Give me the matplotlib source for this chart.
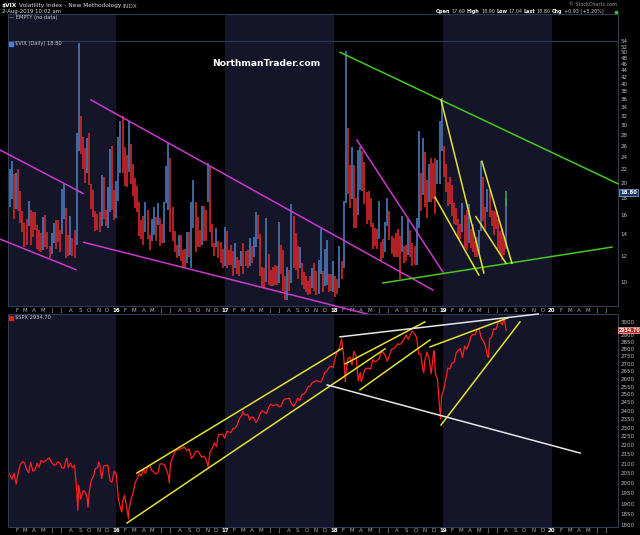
import matplotlib
matplotlib.use('Agg')
import matplotlib.pyplot as plt
from matplotlib.ticker import NullLocator
from matplotlib.lines import Line2D
import pandas as pd

# ---------------- data ----------------
# weekly bars, Fridays 2015-01-02 .. 2019-08-02
vix_hi = [
    # 2015
    20.9, 22.0, 23.3, 21.3, 21.4,  22.0, 18.9, 16.4, 15.1,  15.5, 17.6, 16.6, 16.3,
    16.3, 14.9, 14.4, 14.1,  15.8, 16.0, 14.2, 12.9, 14.1,  15.1, 15.4, 15.4, 14.4,
    19.2, 20.0, 16.8, 13.9, 15.9,  13.6, 14.4, 28.4, 53.3,  32.0, 27.7, 25.5, 27.4,
    28.3, 19.8, 19.0, 16.4, 16.1,  16.3, 21.1, 20.8, 16.5,  19.5, 25.3, 25.9, 19.0,
    # 2016
    20.3, 27.7, 30.9, 32.1, 25.8,  24.3, 30.9, 26.3, 22.9,  20.7, 19.6, 17.5, 15.4,
    15.9, 17.5, 16.5, 13.9, 15.5,  16.9, 15.8, 17.4, 15.6,  15.0, 17.5, 22.5, 26.7,
    23.9, 16.9, 14.3, 13.0, 13.9,  13.9, 12.5, 12.6, 14.2,  14.2, 17.5, 20.5, 17.5, 15.8,
    14.4, 17.0, 17.0, 16.5,  23.0, 22.5, 15.0, 13.1,  14.6, 13.3, 13.2, 12.6, 14.7,
    # 2017
    14.3, 12.5, 13.0, 12.4,  13.1, 11.9, 11.7, 12.4,  13.1, 12.4, 12.5, 13.6, 12.9,
    13.7, 16.3, 16.0, 14.0,  11.1, 11.0, 15.6, 12.2,  10.9, 11.1, 11.3, 11.2, 15.2,
    13.0, 12.5, 10.4, 11.1,  10.9, 17.3, 15.9, 14.1,  12.9, 12.8, 11.4, 10.7, 10.4,
    10.1, 10.4, 11.0, 11.4,  10.8, 11.7, 14.5, 10.8,  12.6, 13.4, 10.6, 10.6, 11.6,
    # 2018
    10.4, 10.2, 12.9, 11.6,  17.6, 50.3, 29.5, 22.7,  25.7, 22.7, 18.0, 25.2, 25.7,
    25.1, 23.2, 18.8, 18.9,  18.0, 15.1, 14.6, 14.5,  17.6, 13.2, 13.5, 15.2, 18.0,
    16.4, 13.8, 13.6, 14.1,  14.5, 13.8, 15.9, 12.9, 13.0,  15.5, 14.4, 13.1, 12.9,
    15.6, 28.8, 21.5, 27.4,  24.9, 20.5, 22.8, 23.8, 23.0,  23.8, 23.5, 30.8, 36.2,
    # 2019
    26.0, 22.9, 20.2, 20.8,  19.7, 17.4, 16.8, 15.5,  15.0, 17.4, 16.0, 16.5, 17.3,
    14.5, 15.0, 13.3, 13.7,  14.4, 23.4, 20.8, 16.9, 19.2,  19.1, 16.5, 16.4, 16.3,
    15.5, 14.3, 14.6, 13.7,  17.9,
]
vix_lo = [
    # 2015
    14.5, 16.9, 17.9, 15.5, 16.7,  16.4, 15.1, 14.2, 12.8,  13.0, 14.8, 13.0, 13.7,
    14.4, 12.6, 12.4, 12.3,  12.5, 12.8, 12.6, 11.8, 12.2,  13.1, 12.6, 13.2, 12.3,
    14.0, 15.5, 11.8, 12.0, 12.1,  12.0, 11.8, 13.0, 25.0,  24.5, 22.0, 20.0, 21.4,
    19.7, 16.7, 15.8, 14.3, 14.4,  14.2, 14.8, 15.5, 14.8,  14.6, 16.3, 16.5, 15.4,
    # 2016
    15.6, 17.6, 21.4, 21.5, 19.6,  19.4, 21.6, 19.9, 18.3,  16.8, 16.3, 13.8, 13.5,
    13.0, 14.2, 13.5, 12.5, 13.3,  13.9, 13.3, 14.9, 12.9,  13.1, 13.1, 17.4, 16.5,
    14.2, 13.3, 12.3, 11.8, 12.0,  11.6, 11.0, 11.0, 11.4,  11.9, 11.0, 14.6, 12.3, 12.8,
    12.8, 13.0, 13.3, 13.3,  17.5, 14.2, 12.8, 12.0,  12.8, 11.8, 11.4, 11.0, 11.2,
    # 2017
    11.0, 11.3, 11.3, 10.4,  11.0, 10.6, 10.4, 11.2,  10.6, 11.2, 11.0, 11.2, 11.4,
    11.9, 12.8, 13.5, 10.4,  9.6, 9.6, 10.0, 9.8,  9.7, 9.7, 9.8, 9.8, 9.9,
    10.6, 9.4, 8.8, 8.8,  9.4, 9.9, 11.0, 10.9,  10.2, 11.0, 9.8, 9.5, 9.3,
    9.1, 9.2, 9.6, 9.4,  9.1, 9.2, 10.6, 9.3,  9.7, 9.8, 9.3, 9.4, 9.3,
    # 2018
    9.0, 9.2, 9.6, 10.2,  11.0, 17.4, 18.5, 16.8,  17.9, 14.6, 14.6, 16.0, 19.0,
    18.9, 17.3, 15.0, 15.4,  14.7, 12.6, 12.9, 12.6,  13.5, 11.6, 11.8, 12.3, 14.8,
    13.4, 12.2, 11.9, 11.9,  11.9, 10.2, 12.3, 11.4, 11.6,  12.1, 11.9, 11.2, 11.3,
    11.3, 14.6, 16.4, 18.4,  16.9, 15.6, 17.5, 17.5, 17.9,  16.1, 19.8, 19.8, 25.0,
    # 2019
    20.8, 18.8, 17.0, 17.3,  15.9, 15.0, 14.9, 13.5,  13.5, 14.2, 12.7, 12.5, 13.1,
    12.7, 12.3, 11.9, 11.9,  12.2, 14.3, 15.3, 14.2, 16.3,  15.8, 14.8, 13.9, 14.5,
    12.6, 12.2, 11.7, 12.1,  12.6,
]
vix_today = ('2019-08-02', 17.04, 18.90)   # last (green) daily bar

spx_week = [
    # 2015
    2058, 2044, 2019, 2051, 1995,  2055, 2097, 2110, 2105,  2071, 2053, 2108, 2061,
    2067, 2102, 2081, 2117,  2108, 2116, 2123, 2126, 2107,  2092, 2094, 2110, 2102,
    2077, 2077, 2127, 2080, 2104,  2078, 2092, 1971, 1989,  1921, 1961, 1958, 1931,
    1951, 2015, 2033, 2075, 2079,  2100, 2023, 2089, 2090,  2092, 2012, 2006, 2061,
    # 2016
    2044, 1922, 1880, 1907, 1940,  1880, 1865, 1918, 1948,  2000, 2022, 2050, 2036,
    2073, 2048, 2081, 2092, 2065,  2057, 2047, 2052, 2099,  2099, 2096, 2071, 2037,
    2103, 2130, 2162, 2175, 2174,  2183, 2184, 2184, 2169,  2180, 2128, 2139, 2165, 2168,
    2153, 2133, 2141, 2126,  2085, 2164, 2182, 2213,  2192, 2260, 2259, 2263, 2239,
    # 2017
    2277, 2275, 2271, 2295,  2297, 2316, 2351, 2367,  2383, 2373, 2378, 2344, 2363,
    2355, 2329, 2349, 2384,  2399, 2391, 2382, 2416,  2439, 2432, 2433, 2438, 2423,
    2425, 2459, 2473, 2472,  2476, 2441, 2426, 2443,  2477, 2461, 2500, 2502, 2519,
    2549, 2553, 2575, 2581,  2588, 2582, 2579, 2602,  2642, 2652, 2675, 2683, 2674,
    # 2018
    2743, 2786, 2810, 2873,  2762, 2620, 2732, 2747,  2691, 2787, 2752, 2588, 2641,
    2604, 2656, 2670, 2670,  2663, 2728, 2713, 2721,  2735, 2779, 2780, 2755, 2718,
    2760, 2801, 2802, 2819,  2840, 2833, 2850, 2875, 2902,  2872, 2905, 2930, 2914,
    2885, 2767, 2768, 2658,  2723, 2781, 2736, 2633, 2760,  2633, 2600, 2417, 2486,
    # 2019
    2532, 2596, 2671, 2665,  2707, 2708, 2776, 2793,  2804, 2743, 2822, 2801, 2834,
    2893, 2907, 2905, 2940,  2946, 2881, 2860, 2826, 2752,  2873, 2887, 2950, 2942,
    2990, 3014, 2977, 3026,  2935,
]
spx_extra_dates = ['2015-05-21', '2015-07-20', '2015-08-25', '2015-09-28', '2015-11-03',
                   '2016-01-20', '2016-02-11', '2016-06-27', '2016-08-15', '2017-03-01',
                   '2018-02-08', '2018-04-02', '2018-09-20', '2018-10-29', '2018-12-03',
                   '2018-12-24', '2019-04-30', '2019-06-03']
spx_extra_vals = [2131, 2128, 1868, 1882, 2110, 1859, 1829, 2001, 2191, 2396,
                  2581, 2582, 2931, 2641, 2790, 2351, 2946, 2744]

# hand-drawn trendlines: (start date, start value, end date, end value)
vix_magenta = [('2014-12-07', 25.2, '2015-09-12', 18.6),
               ('2014-12-07', 13.5, '2015-08-19', 10.9),
               ('2015-10-08', 35.8, '2018-11-29', 9.45),
               ('2015-09-14', 13.2, '2018-06-14', 7.77),
               ('2018-03-19', 27.0, '2019-01-02', 10.7)]
vix_green = [('2018-01-21', 50.0, '2020-08-11', 19.9),
             ('2018-06-14', 9.93, '2020-07-22', 12.77)]
vix_yellow = [('2018-12-26', 35.8, '2019-05-19', 10.65),
              ('2018-12-06', 18.1, '2019-05-02', 10.5),
              ('2019-05-12', 23.3, '2019-08-21', 11.4),
              ('2019-04-22', 15.8, '2019-08-01', 11.4)]
spx_yellow = [('2016-03-10', 2051, '2018-01-28', 2806),
              ('2016-02-06', 1809, '2018-06-21', 2803),
              ('2018-02-07', 2699, '2018-11-02', 3000),
              ('2018-03-29', 2529, '2018-11-19', 2867),
              ('2018-11-19', 2817, '2019-08-08', 3031),
              ('2018-12-26', 2315, '2019-09-17', 3000)]
spx_white = [('2018-01-21', 2889, '2019-11-17', 3060),
             ('2017-12-09', 2560, '2020-04-06', 2157)]

vix_ticks = list(range(10, 56, 2))
spx_ticks = list(range(1800, 3001, 50))
spx_hidden = [2950]          # tick label sitting under the "last value" box
month_letters = 'JFMAMJJASOND'

# ---------------- drawing ----------------
W, H = 640, 535
NAVY = '#15152a'
SPINE = '#2b3b58'
RED = '#dc2a2c'
BLUE = '#4d7fc0'
YEL = '#e3e330'
MAG = '#cc38d0'
GRN = '#44cc1c'

weeks = pd.date_range('2015-01-02', '2019-08-02', freq='W-FRI')
x0, x1 = pd.Timestamp('2015-01-01'), pd.Timestamp('2020-08-11')

fig = plt.figure(figsize=(W / 100, H / 100), dpi=100, facecolor='black')


def box(top, bottom):
    return [7.5 / W, 1 - bottom / H, (618 - 7.5) / W, (bottom - top) / H]


ax_e = fig.add_axes(box(14, 41))
ax_v = fig.add_axes(box(41, 306))
ax_s = fig.add_axes(box(314, 527))

for ax in (ax_e, ax_v, ax_s):
    ax.set_facecolor('black')
    for y in (2015, 2017, 2019):
        ax.axvspan(pd.Timestamp(f'{y}-01-01'), pd.Timestamp(f'{y + 1}-01-01'),
                   color=NAVY, lw=0, zorder=0)
    ax.set_xlim(x0, x1)
    for sp in ax.spines.values():
        sp.set_color(SPINE)
        sp.set_linewidth(0.8)

ax_e.set_xticks([])
ax_e.set_yticks([])

# month ticks
months = pd.date_range('2015-02-01', '2020-07-01', freq='MS')
mlabels = [f'{d.year % 100:02d}' if d.month == 1 else month_letters[d.month - 1] for d in months]


def style_x(ax, pad):
    ax.set_xticks(months)
    ax.set_xticklabels(mlabels)
    ax.tick_params(axis='x', length=0, pad=pad, labelsize=4.0, labelcolor='#b0b0b8')
    for t, d in zip(ax.get_xticklabels(), months):
        if d.month == 1:
            t.set_fontweight('bold')
            t.set_color('white')


def style_y(ax, ticks, hidden=()):
    ax.yaxis.tick_right()
    ax.set_yticks(ticks)
    ax.set_yticklabels(['' if v in hidden else str(v) for v in ticks])
    ax.yaxis.set_minor_locator(NullLocator())
    ax.tick_params(axis='y', length=0, pad=2, labelsize=4.0, labelcolor='#c0c0c8')


# VIX panel (log scale)
mids = [(h + l) / 2 for h, l in zip(vix_hi, vix_lo)]
cols = [RED] + [BLUE if mids[i] > mids[i - 1] * 1.03 else RED for i in range(1, len(mids))]
ax_v.vlines(weeks, vix_lo, vix_hi, colors=cols, lw=1.15, zorder=2)
ax_v.vlines([pd.Timestamp(vix_today[0])], [vix_today[1]], [vix_today[2]], colors='#2fa84f', lw=1.2, zorder=3)
ax_v.set_yscale('log')
ax_v.set_ylim(8.45, 54.1)
style_y(ax_v, vix_ticks)
style_x(ax_v, 1.2)

for group, c in ((vix_magenta, MAG), (vix_green, GRN), (vix_yellow, YEL)):
    for d0, v0, d1, v1 in group:
        ax_v.plot([pd.Timestamp(d0), pd.Timestamp(d1)], [v0, v1], color=c, lw=1.1,
                  clip_on=False, zorder=4)

# SPX panel (log scale)
spx = pd.concat([pd.Series(spx_week, index=weeks),
                 pd.Series(spx_extra_vals, index=pd.to_datetime(spx_extra_dates))]).sort_index()
ax_s.plot(spx.index, spx.values, color='#ff1f1f', lw=0.9, zorder=2)
ax_s.set_yscale('log')
ax_s.set_ylim(1791, 3060)
style_y(ax_s, spx_ticks, spx_hidden)
style_x(ax_s, 0.6)

for group, c in ((spx_yellow, YEL), (spx_white, '#e6e6ea')):
    for d0, v0, d1, v1 in group:
        ax_s.plot([pd.Timestamp(d0), pd.Timestamp(d1)], [v0, v1], color=c, lw=1.1,
                  clip_on=False, zorder=4)

# ---------------- texts ----------------
renderer = fig.canvas.get_renderer()


def run_text(x, y, parts, size=4.0, gap=1.6):
    for s, w, c in parts:
        t = fig.text(x / W, 1 - y / H, s, fontsize=size, fontweight=w, color=c,
                     va='center', ha='left')
        x += t.get_window_extent(renderer=renderer).width + gap
    return x


run_text(2, 6, [('$VIX', 'bold', 'white'), ('Volatility Index - New Methodology', 'normal', '#dddddd'),
                ('INDX', 'normal', '#bbbbbb')], 4.2)
fig.text(2 / W, 1 - 12 / H, '2-Aug-2019 10:02 am', fontsize=3.9, color='#dddddd', va='center')
fig.text(9 / W, 1 - 17.5 / H, '\u2014 EMPTY (no data)', fontsize=3.7, color='#cccccc', va='center')
fig.text(617 / W, 1 - 5 / H, '\u00a9 StockCharts.com', fontsize=3.5, color='#9a9aa0', va='center', ha='right')
run_text(436, 11.5, [('Open', 'bold', 'white'), ('17.69', 'normal', '#cccccc'),
                     ('High', 'bold', 'white'), ('18.90', 'normal', '#cccccc'),
                     ('Low', 'bold', 'white'), ('17.04', 'normal', '#cccccc'),
                     ('Last', 'bold', 'white'), ('18.80', 'normal', '#cccccc'),
                     ('Chg', 'bold', 'white'), ('+0.93 (+5.20%)', 'normal', '#cccccc')], 3.5, 1.3)
fig.add_artist(Line2D([616 / W], [1 - 12 / H], marker='s', ms=2, color='#2fbf4f', transform=fig.transFigure))

fig.add_artist(Line2D([11 / W], [1 - 44 / H], marker='s', ms=2.2, color='#4a7fd0', transform=fig.transFigure))
fig.text(15 / W, 1 - 44 / H, '$VIX (Daily) 18.80', fontsize=3.7, color='#cccccc', va='center')
fig.add_artist(Line2D([11 / W], [1 - 318 / H], marker='s', ms=2.2, color='#e02020', transform=fig.transFigure))
fig.text(15 / W, 1 - 318 / H, '$SPX 2934.70', fontsize=3.7, color='#cccccc', va='center')

fig.text(266 / W, 1 - 63 / H, 'NorthmanTrader.com', fontsize=6.6, fontweight='bold',
         color='white', ha='center', va='center')

fig.text(620 / W, 1 - 192.5 / H, '18.80', fontsize=3.8, fontweight='bold', color='white', va='center',
         zorder=5, bbox=dict(boxstyle='square,pad=0.15', fc='#1c3566', ec='#8fb0e0', lw=0.5))
fig.text(619 / W, 1 - 330 / H, '2934.70', fontsize=3.4, fontweight='bold', color='white', va='center',
         zorder=5, bbox=dict(boxstyle='square,pad=0.12', fc='#c42020', ec='#f0c0c0', lw=0.5))

fig.savefig('out.png', dpi=100, facecolor='black')
